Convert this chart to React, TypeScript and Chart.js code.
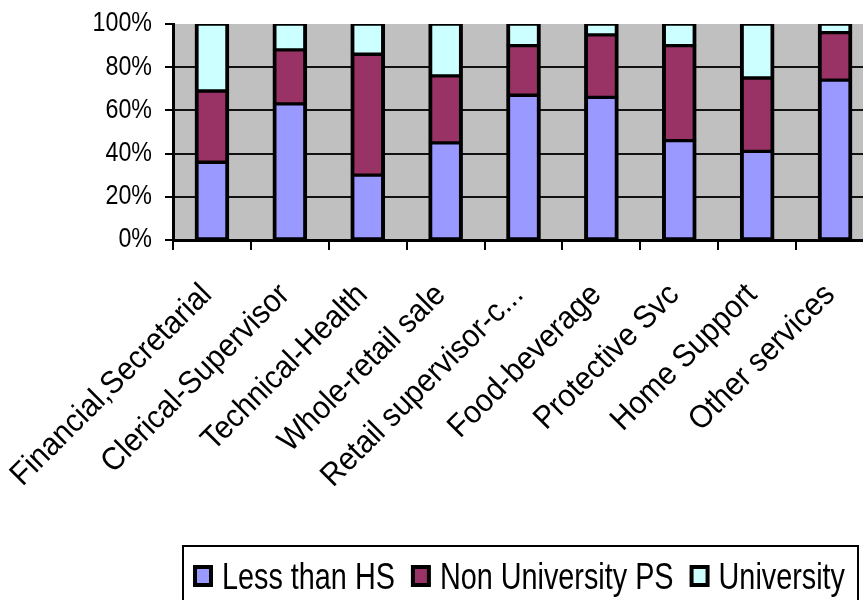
import React, { useEffect, useRef } from 'react';
import { Chart, registerables } from 'chart.js';

Chart.register(...registerables);

const categories = [
  'Financial,Secretarial',
  'Clerical-Supervisor',
  'Technical-Health',
  'Whole-retail sale',
  'Retail supervisor-c...',
  'Food-beverage',
  'Protective Svc',
  'Home Support',
  'Other services',
];
const lessThanHS = [36, 63, 30, 45, 67, 66, 46, 41, 74];
const nonUniversityPS = [33, 25, 56, 31, 23, 29, 44, 34, 22];
const university = [31, 12, 14, 24, 10, 5, 10, 25, 4];
const seriesLabels = ['Less than HS', 'Non University PS', 'University'];
const seriesColors = ['#9999FF', '#993366', '#CCFFFF'];
const yMin = 0;
const yMax = 100;
const yStep = 20;

const FONT = "'Liberation Sans', Arial, Helvetica, sans-serif";

function scaledText(ctx: CanvasRenderingContext2D, text: string, x: number, y: number, sx: number, rot = 0) {
  ctx.save();
  ctx.translate(x, y);
  if (rot) ctx.rotate(rot);
  ctx.scale(sx, 1);
  ctx.fillText(text, 0, 0);
  ctx.restore();
}

const plotBgPlugin = {
  id: 'plotBg',
  beforeDraw(chart: any) {
    const { ctx, chartArea } = chart;
    ctx.save();
    ctx.fillStyle = '#C0C0C0';
    ctx.fillRect(chartArea.left, chartArea.top, chartArea.right - chartArea.left, chartArea.bottom - chartArea.top);
    ctx.restore();
  },
};

const axisLabelPlugin = {
  id: 'axisLabels',
  afterDraw(chart: any) {
    const { ctx, chartArea } = chart;
    const xs = chart.scales.x;
    const ys = chart.scales.y;
    ctx.save();
    ctx.fillStyle = '#000';
    // y labels
    ctx.font = `27px ${FONT}`;
    ctx.textAlign = 'right';
    ctx.textBaseline = 'middle';
    ys.ticks.forEach((t: any) => {
      scaledText(ctx, `${t.value}%`, chartArea.left - 21, ys.getPixelForValue(t.value), 0.86);
    });
    // x labels
    ctx.font = `32px ${FONT}`;
    (chart.data.labels as string[]).forEach((lab, i) => {
      const px = xs.getPixelForTick(i);
      scaledText(ctx, lab, px - 5, chartArea.bottom + 50, 0.93, -Math.PI / 4);
    });
    ctx.restore();
  },
};

const boxedLegendPlugin = {
  id: 'boxedLegend',
  afterDraw(chart: any) {
    const { ctx, chartArea } = chart;
    const left = chartArea.left + 10;
    const right = 858;
    const top = 546;
    const sx = 0.8;
    ctx.save();
    ctx.strokeStyle = '#000';
    ctx.lineWidth = 2;
    ctx.strokeRect(left, top, right - left, 80);
    ctx.font = `36px ${FONT}`;
    ctx.textBaseline = 'alphabetic';
    ctx.textAlign = 'left';
    let x = left + 10;
    chart.data.datasets.forEach((ds: any) => {
      ctx.fillStyle = '#000';
      ctx.fillRect(x, 565, 20, 22);
      ctx.fillStyle = ds.backgroundColor;
      ctx.fillRect(x + 4, 569, 12, 14);
      x += 29;
      ctx.fillStyle = '#000';
      scaledText(ctx, ds.label, x, 589, sx);
      x += ctx.measureText(ds.label).width * sx + 16;
    });
    ctx.restore();
  },
};

export default function App() {
  const canvasRef = useRef<HTMLCanvasElement | null>(null);

  useEffect(() => {
    if (!canvasRef.current) return;
    const seriesData = [lessThanHS, nonUniversityPS, university];
    const chart = new Chart(canvasRef.current, {
      type: 'bar',
      data: {
        labels: categories,
        datasets: seriesLabels.map((label, i) => ({
          label,
          data: seriesData[i],
          backgroundColor: seriesColors[i],
          borderColor: '#000',
          borderWidth: { top: 2, bottom: 2, left: 4, right: 4 },
          borderSkipped: false,
          barThickness: 34,
        })),
      },
      options: {
        animation: false,
        responsive: false,
        devicePixelRatio: 1,
        layout: { padding: { top: 24, left: 0, right: 0, bottom: 0 } },
        plugins: {
          legend: { display: false },
          tooltip: { enabled: false },
        },
        scales: {
          x: {
            stacked: true,
            offset: true,
            afterFit: (s: any) => { s.height = 360; },
            grid: {
              offset: true,
              drawOnChartArea: false,
              drawTicks: true,
              tickLength: 10,
              color: '#000',
              tickColor: '#000',
              lineWidth: 2,
            },
            border: { display: true, color: '#000', width: 3 },
            ticks: { display: false, autoSkip: false },
          },
          y: {
            stacked: true,
            min: yMin,
            max: yMax,
            afterFit: (s: any) => { s.width = 173; },
            grid: {
              color: (c: any) => (c.tick && c.tick.value === yMax ? 'rgba(0,0,0,0)' : '#111'),
              tickColor: '#000',
              lineWidth: 2,
              tickLength: 8,
            },
            border: { display: true, color: '#000', width: 3 },
            ticks: { display: false, stepSize: yStep },
          },
        },
      },
      plugins: [plotBgPlugin, axisLabelPlugin, boxedLegendPlugin],
    } as any);
    return () => chart.destroy();
  }, []);

  return (
    <div style={{ position: 'fixed', left: 0, top: 0, width: 863, height: 600, overflow: 'hidden', background: '#fff' }}>
      <canvas ref={canvasRef} width={874} height={600} style={{ width: 874, height: 600, display: 'block' }} />
    </div>
  );
}
